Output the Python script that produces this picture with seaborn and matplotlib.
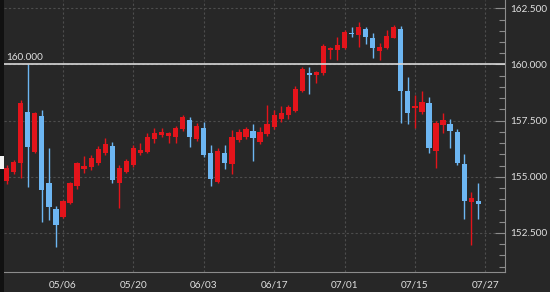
import numpy as np
import pandas as pd
import matplotlib
matplotlib.use("Agg")
import matplotlib.pyplot as plt
import matplotlib.transforms as mtransforms
from matplotlib.ticker import MultipleLocator, FixedLocator, FuncFormatter
from matplotlib.patches import Rectangle
import seaborn as sns

# ---- data ----
opens = [154.81, 155.19, 155.61, 157.88, 156.12, 157.71, 154.72, 153.56, 153.22, 153.83,
         154.59, 155.35, 155.43, 155.61, 156.06, 156.37, 154.72, 155.22, 155.52, 156.08,
         156.12, 156.67, 156.86, 156.83, 156.77, 157.11, 157.53, 156.67, 157.16, 156.06,
         154.77, 156.06, 155.55, 156.64, 156.76, 157.04, 156.56, 156.90, 157.20, 157.57,
         157.75, 157.95, 158.84, 159.63, 159.53, 159.60, 160.65, 160.65, 160.72, 161.38,
         161.31, 161.57, 161.19, 160.61, 160.72, 161.19, 161.57, 158.82, 158.08, 157.90,
         158.27, 156.15, 157.31, 157.34, 157.01, 155.59, 153.88, 153.92]
highs = [155.52, 155.75, 158.42, 160.02, 157.90, 157.97, 156.28, 153.70, 153.95, 154.75,
         155.65, 155.92, 155.97, 156.37, 156.73, 156.55, 155.52, 155.78, 156.41, 156.50,
         156.95, 157.17, 157.17, 156.99, 157.26, 157.75, 157.66, 157.39, 157.44, 156.41,
         156.28, 156.41, 157.08, 157.13, 157.23, 157.35, 157.23, 158.20, 157.97, 158.15,
         158.20, 159.04, 159.87, 159.90, 159.71, 160.91, 160.78, 161.22, 161.54, 161.69,
         161.91, 161.66, 161.39, 160.94, 161.54, 161.76, 161.71, 159.42, 158.64, 158.82,
         158.57, 157.48, 157.83, 157.59, 157.11, 156.00, 154.30, 154.73]
lows = [154.68, 155.12, 154.94, 154.54, 156.05, 152.98, 153.07, 151.87, 153.18, 153.80,
        154.45, 155.17, 155.30, 155.52, 155.97, 154.72, 153.61, 155.15, 155.45, 155.97,
        156.05, 156.50, 156.77, 156.50, 156.50, 157.04, 156.34, 156.58, 155.88, 154.59,
        154.72, 155.35, 155.12, 156.55, 156.68, 155.70, 156.46, 156.82, 157.13, 157.44,
        157.56, 157.88, 158.78, 158.69, 159.18, 159.53, 160.24, 160.20, 160.69, 161.22,
        160.79, 160.91, 160.28, 160.22, 160.69, 161.16, 157.38, 157.34, 157.16, 157.80,
        156.07, 155.38, 156.94, 156.27, 155.52, 153.10, 151.95, 153.10]
closes = [155.39, 155.66, 158.29, 156.33, 157.84, 154.41, 153.65, 152.85, 153.92, 154.72,
          155.61, 155.48, 155.83, 156.24, 156.46, 154.86, 155.39, 155.71, 156.28, 156.19,
          156.78, 156.96, 157.00, 156.95, 157.17, 157.67, 156.78, 157.26, 155.99, 154.88,
          156.15, 155.63, 156.75, 157.01, 157.11, 156.71, 157.01, 157.35, 157.75, 157.83,
          158.09, 158.90, 159.79, 159.55, 159.68, 160.82, 160.75, 160.87, 161.46, 161.34,
          161.67, 161.24, 160.75, 160.79, 161.27, 161.68, 158.84, 157.83, 158.17, 158.34,
          156.27, 157.38, 157.53, 157.04, 155.61, 153.92, 154.07, 153.77]
tick_idx = [8, 18, 28, 38, 48, 58, 68]
tick_labels = ["05/06", "05/20", "06/03", "06/17", "07/01", "07/15", "07/27"]
ref_level = 160.0
ref_label = "160.000"

df = pd.DataFrame({"idx": np.arange(len(opens)), "open": opens, "high": highs,
                   "low": lows, "close": closes})
df["up"] = df["close"] >= df["open"]

BG = "#272727"
UP = "#e3141b"
DOWN = "#6db6f2"
TXT = "#e0e0e0"
GRID = "#4d4d4d"
AXC = "#8c8c8c"

sns.set_theme(style="dark", rc={
    "axes.facecolor": BG, "figure.facecolor": BG, "axes.edgecolor": AXC,
    "text.color": TXT, "xtick.color": AXC, "ytick.color": AXC,
    "xtick.labelcolor": TXT, "ytick.labelcolor": TXT,
})
plt.rcParams["font.family"] = ["Lato", "DejaVu Sans"]

fig = plt.figure(figsize=(5.5, 2.92), dpi=100, facecolor=BG)
ax = fig.add_axes([4 / 550, 20 / 292, 501 / 550, 272 / 292])
ax.set_facecolor(BG)

colors = np.where(df["up"], UP, DOWN)
ax.vlines(df["idx"], df["low"], df["high"], colors=colors, lw=1.0, zorder=2)
body_lo = np.minimum(df["open"], df["close"])
body_h = np.maximum(np.abs(df["close"] - df["open"]), 0.05)
ax.bar(df["idx"], body_h, bottom=body_lo, width=0.74, color=colors, lw=0, zorder=2.5)

ax.axhline(ref_level, color="#d8d8d8", lw=1.2, zorder=3)
blend = mtransforms.blended_transform_factory(ax.transAxes, ax.transData)
ax.text(0.004, ref_level + 0.13, ref_label, transform=blend,
        color=TXT, fontsize=7.2, va="bottom", ha="left")

ax.set_xlim(-0.38, 70.8)
ax.set_ylim(150.76, 162.87)

ax.xaxis.set_major_locator(FixedLocator(tick_idx))
ax.set_xticks(tick_idx)
ax.set_xticklabels(tick_labels)
ax.xaxis.set_minor_locator(MultipleLocator(1))
ax.yaxis.tick_right()
ax.yaxis.set_major_locator(MultipleLocator(2.5))
ax.yaxis.set_minor_locator(MultipleLocator(0.5))
ax.yaxis.set_major_formatter(FuncFormatter(lambda v, p: f"{v:.3f}"))

ax.tick_params(axis="x", which="major", direction="inout", length=8, width=0.8,
               labelsize=7.2, pad=2, colors=AXC, labelcolor=TXT)
ax.tick_params(axis="x", which="minor", direction="out", length=4, width=0.8, colors=AXC)
ax.tick_params(axis="y", which="major", direction="in", length=7, width=0.8,
               labelsize=7.2, pad=4, right=True, left=False, colors=AXC, labelcolor=TXT)
ax.tick_params(axis="y", which="minor", direction="in", length=4, width=0.8,
               right=True, left=False, colors=AXC)

ax.grid(which="major", color=GRID, ls=(0, (2, 2)), lw=0.8, zorder=0)
ax.set_axisbelow(True)
for s in ["top", "left"]:
    ax.spines[s].set_visible(False)
for s in ["bottom", "right"]:
    ax.spines[s].set_visible(True)
    ax.spines[s].set_color(AXC)
    ax.spines[s].set_linewidth(0.8)

# left dark strip with cut-off price marker
fig.patches.append(Rectangle((0, 0), 4 / 550, 1, transform=fig.transFigure,
                             facecolor="#111111", edgecolor="none", zorder=5))
fig.patches.append(Rectangle((0, (292 - 169) / 292), 4 / 550, 13 / 292, transform=fig.transFigure,
                             facecolor="#f2f2f2", edgecolor="none", zorder=6))

fig.savefig("out.png", dpi=100, facecolor=BG)
